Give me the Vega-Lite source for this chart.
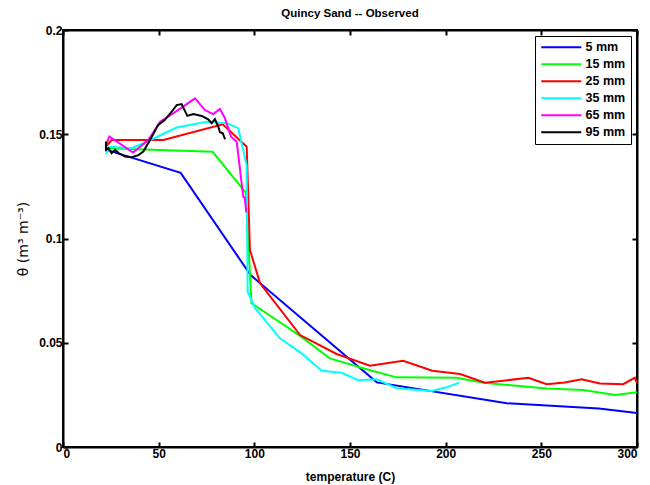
{
  "$schema": "https://vega.github.io/schema/vega-lite/v6.json",
  "width": 574,
  "height": 417,
  "autosize": {"type": "none"},
  "padding": {"left": 63, "top": 30, "right": 13, "bottom": 38},
  "background": "white",
  "title": {"text": "Quincy Sand -- Observed", "font": "Liberation Sans", "fontSize": 11.5, "fontWeight": "bold", "color": "black", "offset": 5},
  "config": {
    "view": {"stroke": "black", "strokeWidth": 2},
    "axis": {"labelFont": "Liberation Sans", "labelFontWeight": "bold", "labelFontSize": 12, "labelColor": "black", "titleFont": "Liberation Sans", "titleFontSize": 12, "titleColor": "black", "grid": false, "domainColor": "black", "domainWidth": 2, "tickColor": "black", "tickWidth": 2, "tickSize": -5, "labelPadding": 6}
  },
  "data": {"values": [
    {"s":"5 mm","i":1,"T":22.8,"v":0.1425},{"s":"5 mm","i":2,"T":61.5,"v":0.1315},{"s":"5 mm","i":3,"T":98,"v":0.0825},{"s":"5 mm","i":4,"T":164,"v":0.031},{"s":"5 mm","i":5,"T":232,"v":0.021},{"s":"5 mm","i":6,"T":280,"v":0.0185},{"s":"5 mm","i":7,"T":300,"v":0.0163},
    {"s":"15 mm","i":1,"T":22.8,"v":0.1433},{"s":"15 mm","i":2,"T":78.2,"v":0.1416},{"s":"15 mm","i":3,"T":95.5,"v":0.122},{"s":"15 mm","i":4,"T":98.5,"v":0.069},{"s":"15 mm","i":5,"T":123.9,"v":0.0533},{"s":"15 mm","i":6,"T":139.5,"v":0.0425},{"s":"15 mm","i":7,"T":158.7,"v":0.0373},{"s":"15 mm","i":8,"T":174.4,"v":0.0334},{"s":"15 mm","i":9,"T":205.7,"v":0.0332},{"s":"15 mm","i":10,"T":219.7,"v":0.0308},{"s":"15 mm","i":11,"T":252.8,"v":0.0281},{"s":"15 mm","i":12,"T":271.9,"v":0.0273},{"s":"15 mm","i":13,"T":288.5,"v":0.0249},{"s":"15 mm","i":14,"T":300,"v":0.0263},
    {"s":"25 mm","i":1,"T":22.8,"v":0.1445},{"s":"25 mm","i":2,"T":25.4,"v":0.1472},{"s":"25 mm","i":3,"T":52.4,"v":0.1472},{"s":"25 mm","i":4,"T":83.5,"v":0.1548},{"s":"25 mm","i":5,"T":96,"v":0.144},{"s":"25 mm","i":6,"T":97.7,"v":0.0945},{"s":"25 mm","i":7,"T":103,"v":0.0785},{"s":"25 mm","i":8,"T":123.9,"v":0.0537},{"s":"25 mm","i":9,"T":143,"v":0.0446},{"s":"25 mm","i":10,"T":160.4,"v":0.039},{"s":"25 mm","i":11,"T":177.8,"v":0.0414},{"s":"25 mm","i":12,"T":193,"v":0.0366},{"s":"25 mm","i":13,"T":207.5,"v":0.035},{"s":"25 mm","i":14,"T":220.5,"v":0.0308},{"s":"25 mm","i":15,"T":243.2,"v":0.0332},{"s":"25 mm","i":16,"T":252.8,"v":0.0301},{"s":"25 mm","i":17,"T":262.3,"v":0.0309},{"s":"25 mm","i":18,"T":271.1,"v":0.0325},{"s":"25 mm","i":19,"T":280.6,"v":0.0305},{"s":"25 mm","i":20,"T":292.8,"v":0.0301},{"s":"25 mm","i":21,"T":298.8,"v":0.0332},{"s":"25 mm","i":22,"T":300,"v":0.0308},
    {"s":"35 mm","i":1,"T":22.5,"v":0.1405},{"s":"35 mm","i":2,"T":24.2,"v":0.144},{"s":"35 mm","i":3,"T":35.9,"v":0.1433},{"s":"35 mm","i":4,"T":43.7,"v":0.1464},{"s":"35 mm","i":5,"T":59.4,"v":0.1532},{"s":"35 mm","i":6,"T":75.1,"v":0.156},{"s":"35 mm","i":7,"T":85.5,"v":0.1553},{"s":"35 mm","i":8,"T":91.6,"v":0.1529},{"s":"35 mm","i":9,"T":96,"v":0.135},{"s":"35 mm","i":10,"T":96.5,"v":0.0745},{"s":"35 mm","i":11,"T":100.5,"v":0.0665},{"s":"35 mm","i":12,"T":113.4,"v":0.0521},{"s":"35 mm","i":13,"T":124.7,"v":0.0449},{"s":"35 mm","i":14,"T":135.2,"v":0.0366},{"s":"35 mm","i":15,"T":145.6,"v":0.0356},{"s":"35 mm","i":16,"T":154.3,"v":0.032},{"s":"35 mm","i":17,"T":164,"v":0.0325},{"s":"35 mm","i":18,"T":174.4,"v":0.0282},{"s":"35 mm","i":19,"T":192.7,"v":0.0269},{"s":"35 mm","i":20,"T":200,"v":0.0285},{"s":"35 mm","i":21,"T":207,"v":0.0308},
    {"s":"65 mm","i":1,"T":22.5,"v":0.1449},{"s":"65 mm","i":2,"T":24.2,"v":0.1489},{"s":"65 mm","i":3,"T":36.6,"v":0.1412},{"s":"65 mm","i":4,"T":44.6,"v":0.1472},{"s":"65 mm","i":5,"T":50.7,"v":0.156},{"s":"65 mm","i":6,"T":57.6,"v":0.16},{"s":"65 mm","i":7,"T":69,"v":0.1672},{"s":"65 mm","i":8,"T":74.2,"v":0.1616},{"s":"65 mm","i":9,"T":78.5,"v":0.1597},{"s":"65 mm","i":10,"T":82,"v":0.1621},{"s":"65 mm","i":11,"T":84.7,"v":0.1576},{"s":"65 mm","i":12,"T":87.8,"v":0.1488},{"s":"65 mm","i":13,"T":90.8,"v":0.1464},{"s":"65 mm","i":14,"T":94.2,"v":0.12},{"s":"65 mm","i":15,"T":95,"v":0.1195},{"s":"65 mm","i":16,"T":95.8,"v":0.1125},
    {"s":"95 mm","i":1,"T":22.5,"v":0.1465},{"s":"95 mm","i":2,"T":22.5,"v":0.1425},{"s":"95 mm","i":3,"T":23.8,"v":0.1433},{"s":"95 mm","i":4,"T":25.4,"v":0.1409},{"s":"95 mm","i":5,"T":27.2,"v":0.1425},{"s":"95 mm","i":6,"T":29,"v":0.141},{"s":"95 mm","i":7,"T":32.4,"v":0.1393},{"s":"95 mm","i":8,"T":35.9,"v":0.139},{"s":"95 mm","i":9,"T":39.4,"v":0.14},{"s":"95 mm","i":10,"T":42,"v":0.1417},{"s":"95 mm","i":11,"T":45.5,"v":0.1473},{"s":"95 mm","i":12,"T":49.8,"v":0.1545},{"s":"95 mm","i":13,"T":53.3,"v":0.1569},{"s":"95 mm","i":14,"T":56.8,"v":0.1608},{"s":"95 mm","i":15,"T":59.4,"v":0.164},{"s":"95 mm","i":16,"T":62,"v":0.1645},{"s":"95 mm","i":17,"T":65,"v":0.1588},{"s":"95 mm","i":18,"T":68.1,"v":0.1597},{"s":"95 mm","i":19,"T":72.5,"v":0.1588},{"s":"95 mm","i":20,"T":75.9,"v":0.1572},{"s":"95 mm","i":21,"T":77.7,"v":0.1553},{"s":"95 mm","i":22,"T":79.4,"v":0.1572},{"s":"95 mm","i":23,"T":81.2,"v":0.1536},{"s":"95 mm","i":24,"T":82,"v":0.151},{"s":"95 mm","i":25,"T":83.5,"v":0.1505},{"s":"95 mm","i":26,"T":84.7,"v":0.1476}
  ]},
  "layer": [
    {
      "mark": {"type": "line", "strokeWidth": 2, "clip": true},
      "encoding": {
        "x": {"field": "T", "type": "quantitative", "scale": {"domain": [0, 300], "nice": false, "zero": false}, "axis": {"orient": "bottom", "values": [0, 50, 100, 150, 200, 250, 300], "title": "temperature (C)", "titleFontWeight": "bold", "titlePadding": 12}},
        "y": {"field": "v", "type": "quantitative", "scale": {"domain": [0, 0.2], "nice": false}, "axis": {"orient": "left", "values": [0, 0.05, 0.1, 0.15, 0.2], "format": "~g", "title": "θ (m³ m⁻³)", "titleFont": "DejaVu Sans", "titleFontWeight": "normal", "titleFontSize": 14, "titlePadding": 8}},
        "color": {"field": "s", "type": "nominal", "scale": {"domain": ["5 mm", "15 mm", "25 mm", "35 mm", "65 mm", "95 mm"], "range": ["#0000ff", "#00ff00", "#ff0000", "#00ffff", "#ff00ff", "#000000"]},
          "legend": {"title": null, "orient": "top-right", "offset": 6, "strokeColor": "black", "fillColor": "white", "padding": 5, "symbolType": "M-1,0H7", "symbolSize": 100, "symbolStrokeWidth": 2, "symbolFillColor": "transparent", "labelFont": "Liberation Sans", "labelFontWeight": "bold", "labelFontSize": 12.5, "labelColor": "black", "labelOffset": 33, "rowPadding": 4}},
        "order": {"field": "i", "type": "quantitative"}
      }
    },
    {
      "mark": {"type": "point", "opacity": 0},
      "encoding": {
        "x": {"field": "T", "type": "quantitative", "scale": {"domain": [0, 300], "nice": false, "zero": false}, "axis": {"orient": "top", "values": [0, 50, 100, 150, 200, 250, 300], "labels": false, "title": null}},
        "y": {"field": "v", "type": "quantitative", "scale": {"domain": [0, 0.2], "nice": false}, "axis": {"orient": "right", "values": [0, 0.05, 0.1, 0.15, 0.2], "labels": false, "title": null}}
      }
    }
  ],
  "resolve": {"axis": {"x": "independent", "y": "independent"}}
}
